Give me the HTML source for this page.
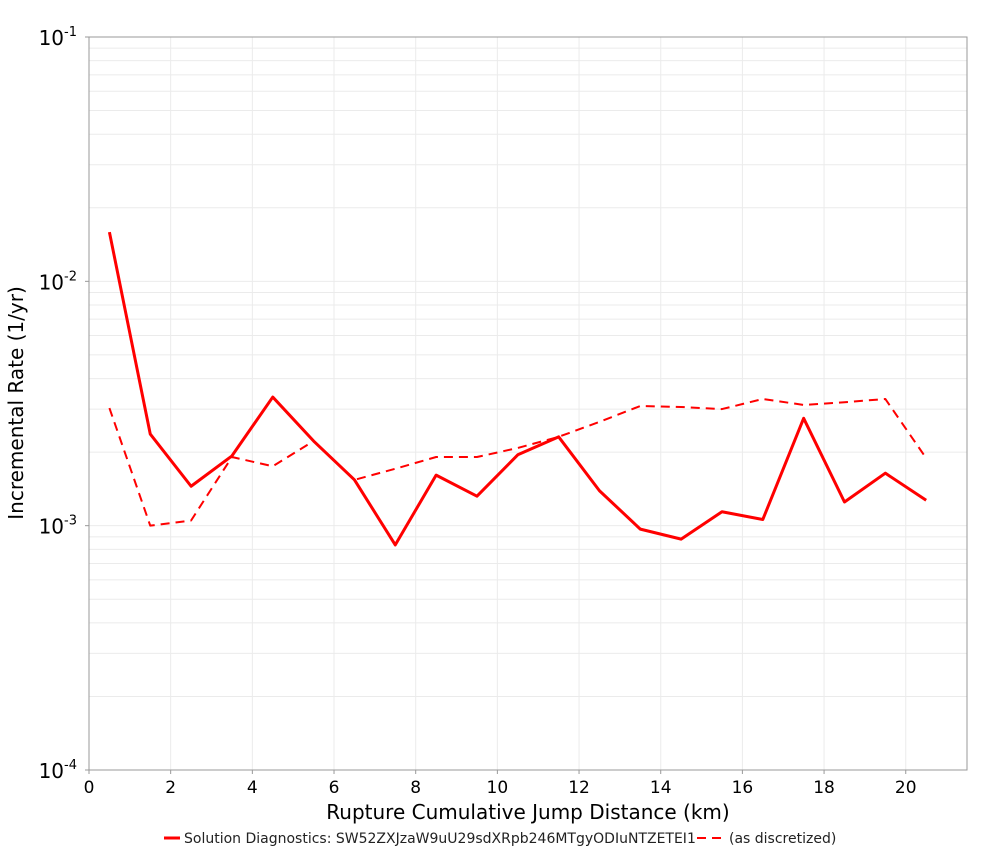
<!DOCTYPE html>
<html><head><meta charset="utf-8"><style>
body{margin:0;background:#fff;font-family:"Liberation Sans","DejaVu Sans",sans-serif;}
</style></head><body>
<svg id="chart" width="1000" height="850" xmlns="http://www.w3.org/2000/svg" font-family="DejaVu Sans, Liberation Sans, sans-serif"></svg>
<script>
const xValues=[0.5,1.5,2.5,3.5,4.5,5.5,6.5,7.5,8.5,9.5,10.5,11.5,12.5,13.5,14.5,15.5,16.5,17.5,18.5,19.5,20.5];
const solidValues=[0.0159,0.00237,0.00145,0.00193,0.00336,0.00222,0.00154,0.000834,0.00161,0.00132,0.00195,0.00231,0.00139,0.000968,0.000881,0.00114,0.00106,0.00275,0.00125,0.00164,0.00127];
const dashedValues=[0.00303,0.00100,0.00105,0.00191,0.00175,0.00222,0.00154,0.00171,0.00191,0.00191,0.00208,0.00231,0.00266,0.00309,0.00306,0.00300,0.00330,0.00312,0.00320,0.00330,0.00189];
const xTicks=[0,2,4,6,8,10,12,14,16,18,20];
const yDecades=[-4,-3,-2,-1];
const L=89,R=967,T=37,B=770,XMAX=21.5;
const NS="http://www.w3.org/2000/svg";
const svg=document.getElementById('chart');
function X(v){return L+v/XMAX*(R-L);}
function Y(v){return B-(Math.log10(v)+4)/3*(B-T);}
function el(t,a,p){const e=document.createElementNS(NS,t);for(const k in a)e.setAttribute(k,a[k]);(p||svg).appendChild(e);return e;}
const g=el('g',{});


for(let d=-4;d<-1;d++){for(let m=1;m<10;m++){const y=Y(m*Math.pow(10,d));el('line',{x1:L,x2:R,y1:y,y2:y,stroke:'#ebebeb','stroke-width':1},g);}}
for(const t of xTicks){el('line',{x1:X(t),x2:X(t),y1:T,y2:B,stroke:'#ebebeb','stroke-width':1},g);}
const frame=el('rect',{x:L,y:T,width:R-L,height:B-T,fill:'none',stroke:'#999','stroke-width':1});


for(const t of xTicks){
 el('line',{x1:X(t),x2:X(t),y1:B,y2:B+4,stroke:'#999'});
 const tx=el('text',{x:X(t),y:B+23,'font-size':17,'text-anchor':'middle',fill:'#000'});
 tx.textContent=t;
 
 
}
for(const d of yDecades){
 const y=Y(Math.pow(10,d));
 el('line',{x1:L-4,x2:L,y1:y,y2:y,stroke:'#999'});
 const tx=el('text',{x:L-12,y:y+8,'font-size':20,'text-anchor':'end',fill:'#000'});
 tx.innerHTML='10<tspan dy="-9" font-size="13">'+d+'</tspan>';
 
 
}
function line(vals,dash,name){
 const p=el('polyline',{points:xValues.map((x,i)=>X(x)+','+Y(vals[i])).join(' '),fill:'none',stroke:'#f00','stroke-width':dash?2:3,'stroke-dasharray':dash?'9,6':'none','stroke-linejoin':'round'});
 
 
}
line(dashedValues,true,'discretized-series-line');
line(solidValues,false,'solution-series-line');
const xt=el('text',{x:528,y:819,'font-size':20,'text-anchor':'middle',fill:'#000'});
xt.textContent='Rupture Cumulative Jump Distance (km)';


const yt=el('text',{x:23,y:403,'font-size':20,'text-anchor':'middle',fill:'#000',transform:'rotate(-90 23 403)'});
yt.textContent='Incremental Rate (1/yr)';


const lg=el('g',{});


el('line',{x1:164,x2:180,y1:838,y2:838,stroke:'#f00','stroke-width':3},lg);
const l1=el('text',{x:184,y:843,'font-size':14,fill:'#222'},lg);
l1.textContent='Solution Diagnostics: SW52ZXJzaW9uU29sdXRpb246MTgyODIuNTZETEI1';


el('line',{x1:697,x2:725,y1:838,y2:838,stroke:'#f00','stroke-width':2,'stroke-dasharray':'9,6'},lg);
const l2=el('text',{x:729,y:843,'font-size':14,fill:'#222'},lg);
l2.textContent='(as discretized)';


</script>
</body></html>
